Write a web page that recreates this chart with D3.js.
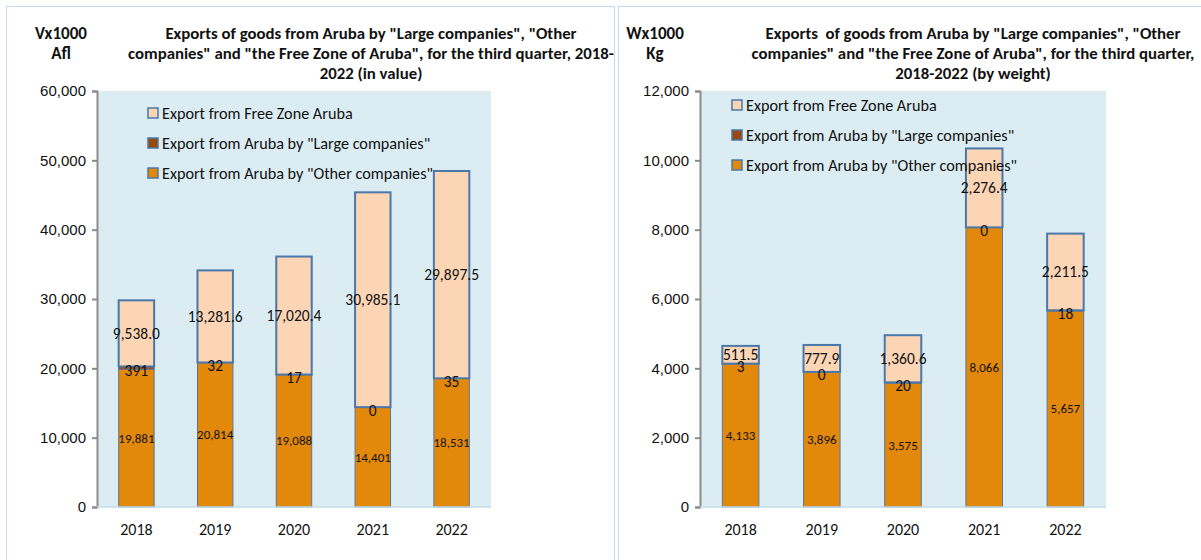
<!DOCTYPE html>
<html>
<head>
<meta charset="utf-8">
<script src="https://cdn.jsdelivr.net/npm/d3@7"></script>
<style>
	body { margin: 0; background: #fff; }
	svg { display: block; font-family: Calibri, Carlito, Lato, sans-serif; }
	text { white-space: pre; }
</style>
</head>
<body>
<div id="chart"></div>
<script>
// data
const years = ["2018", "2019", "2020", "2021", "2022"];
const seriesNames = ["Export from Free Zone Aruba", "Export from Aruba by \"Large companies\"", "Export from Aruba by \"Other companies\""];

const valueOther = [19881, 20814, 19088, 14401, 18531];
const valueLarge = [391, 32, 17, 0, 35];
const valueFree = [9538.0, 13281.6, 17020.4, 30985.1, 29897.5];
const valueTicks = [0, 10000, 20000, 30000, 40000, 50000, 60000];

const weightOther = [4133, 3896, 3575, 8066, 5657];
const weightLarge = [3, 0, 20, 0, 18];
const weightFree = [511.5, 777.9, 1360.6, 2276.4, 2211.5];
const weightTicks = [0, 2000, 4000, 6000, 8000, 10000, 12000];

const titleValue = ["Exports of goods from Aruba by \"Large companies\", \"Other", "companies\" and \"the Free Zone of Aruba\", for the third quarter, 2018-", "2022 (in value)"];
const titleWeight = ["Exports  of goods from Aruba by \"Large companies\", \"Other", "companies\" and \"the Free Zone of Aruba\", for the third quarter,", "2018-2022 (by weight)"];

let width = 1201;
let height = 560;

let colors = { free: "#fcd5b5", large: "#9b4a0c", other: "#e2890b" };
let strokeBlue = "#4a78ab";

let svg = d3.select("#chart")
	.append("svg")
	.attr("width", width)
	.attr("height", height);

function drawPanel(p) {
	// panel frame
	svg.append("rect")
		.attr("x", p.frame[0] + 0.5)
		.attr("y", 6.5)
		.attr("width", p.frame[1] - p.frame[0])
		.attr("height", 600)
		.attr("fill", "none")
		.attr("stroke", "#c5d9ee")
		.attr("stroke-width", 1);

	let x = d3.scaleBand()
		.domain(years)
		.range([p.left, p.right])
		.paddingInner(0.55)
		.paddingOuter(0.275);

	let y = d3.scaleLinear()
		.domain([0, p.ticks[p.ticks.length - 1]])
		.range([507, 91]);

	// plot background
	svg.append("rect")
		.attr("x", p.left)
		.attr("y", y.range()[1])
		.attr("width", p.right - p.left)
		.attr("height", y.range()[0] - y.range()[1])
		.attr("fill", "#dbedf3");

	// stack the three series
	let rows = years.map((yr, i) => ({ year: yr, other: p.other[i], large: p.large[i], free: p.free[i] }));
	let stack = d3.stack().keys(["other", "large", "free"])(rows);

	let fmtInt = d3.format(",");
	let fmtDec = d3.format(",.1f");

	stack.forEach(layer => {
		let key = layer.key;
		svg.append("g")
			.selectAll("rect")
			.data(layer)
			.enter()
			.append("rect")
			.attr("x", d => x(d.data.year))
			.attr("y", d => y(d[1]))
			.attr("width", x.bandwidth())
			.attr("height", d => y(d[0]) - y(d[1]))
			.attr("fill", colors[key])
			.attr("stroke", key === "free" ? strokeBlue : "#5b7696")
			.attr("stroke-width", key === "free" ? 2 : 1);
	});

	// data labels
	stack.forEach(layer => {
		let key = layer.key;
		svg.append("g")
			.selectAll("text")
			.data(layer)
			.enter()
			.append("text")
			.attr("x", d => x(d.data.year) + x.bandwidth() / 2)
			.attr("y", d => (y(d[0]) + y(d[1])) / 2 + (key === "large" ? 3 : 0))
			.attr("dy", "0.35em")
			.attr("text-anchor", "middle")
			.attr("font-size", key === "other" ? 13 : 15.5)
			.attr("fill", "#111")
			.text(d => key === "free" ? fmtDec(d.data[key]) : fmtInt(d.data[key]));
	});

	// axes
	let yAxis = svg.append("g")
		.attr("transform", `translate(${p.left},0)`)
		.call(d3.axisLeft(y).tickValues(p.ticks).tickFormat(d3.format(",")).tickSize(5).tickPadding(6));
	yAxis.select(".domain").attr("stroke", "#8c8c8c").attr("stroke-width", 2);
	yAxis.selectAll(".tick line").attr("stroke", "#8c8c8c").attr("stroke-width", 2);
	yAxis.selectAll("text").attr("font-size", 15).attr("fill", "#111").attr("font-family", null);

	svg.append("line")
		.attr("x1", p.left).attr("x2", p.right)
		.attr("y1", y(0)).attr("y2", y(0))
		.attr("stroke", "#c2dcea")
		.attr("stroke-width", 1.5);

	svg.append("g")
		.selectAll("text")
		.data(years)
		.enter()
		.append("text")
		.attr("x", d => x(d) + x.bandwidth() / 2)
		.attr("y", 535)
		.attr("text-anchor", "middle")
		.attr("font-size", 16)
		.attr("fill", "#111")
		.text(d => d);

	// unit label
	svg.append("g")
		.selectAll("text")
		.data(p.unit)
		.enter()
		.append("text")
		.attr("x", p.unitX)
		.attr("y", (d, i) => 39 + i * 20)
		.attr("text-anchor", "middle")
		.attr("font-size", 17)
		.attr("font-weight", "bold")
		.attr("fill", "#111")
		.text(d => d);

	// title
	svg.append("g")
		.selectAll("text")
		.data(p.title)
		.enter()
		.append("text")
		.attr("x", p.titleX)
		.attr("y", (d, i) => 39 + i * 20)
		.attr("text-anchor", "middle")
		.attr("font-size", 16.8)
		.attr("font-weight", "bold")
		.attr("fill", "#111")
		.text(d => d);

	// legend
	let legendColors = [colors.free, colors.large, colors.other];
	let lg = svg.append("g")
		.selectAll("g")
		.data(seriesNames)
		.enter()
		.append("g")
		.attr("transform", (d, i) => `translate(${p.legendX},${p.legendY + i * 30})`);
	lg.append("rect")
		.attr("x", 0).attr("y", -5)
		.attr("width", 10).attr("height", 10)
		.attr("fill", (d, i) => legendColors[i])
		.attr("stroke", strokeBlue)
		.attr("stroke-width", 1.5);
	lg.append("text")
		.attr("x", 14)
		.attr("dy", "0.35em")
		.attr("font-size", 16.2)
		.attr("fill", "#111")
		.text(d => d);
}

drawPanel({
	frame: [6, 614],
	left: 97, right: 491,
	ticks: valueTicks,
	other: valueOther, large: valueLarge, free: valueFree,
	unit: ["Vx1000", "Afl"], unitX: 61,
	title: titleValue, titleX: 371,
	legendX: 148, legendY: 113
});

drawPanel({
	frame: [618, 1210],
	left: 700, right: 1106,
	ticks: weightTicks,
	other: weightOther, large: weightLarge, free: weightFree,
	unit: ["Wx1000", "Kg"], unitX: 655,
	title: titleWeight, titleX: 973,
	legendX: 732, legendY: 105
});
</script>
</body>
</html>
